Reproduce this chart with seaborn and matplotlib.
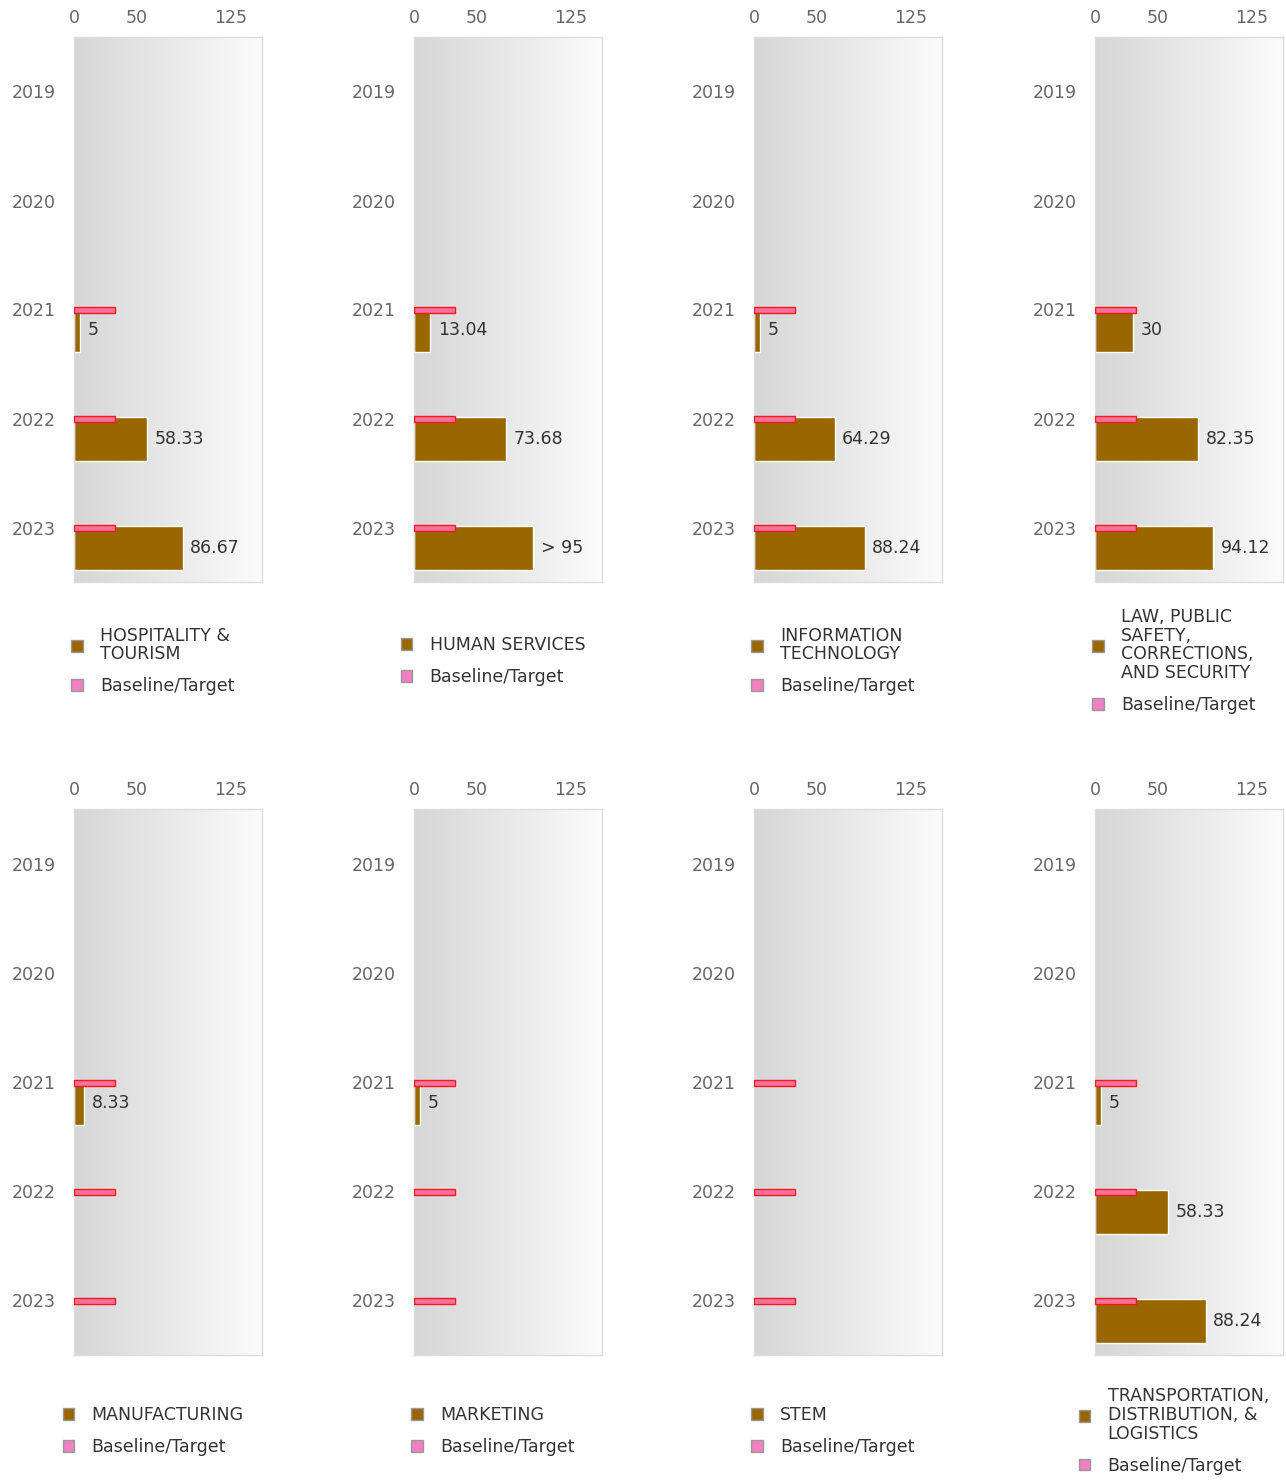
import numpy as np
import seaborn as sns
import matplotlib.pyplot as plt
from matplotlib.patches import Patch
from matplotlib.colors import LinearSegmentedColormap

years = ["2019", "2020", "2021", "2022", "2023"]
nan = np.nan

# one row of values per career cluster, NaN where nothing was reported
hospitality = [nan, nan, 5, 58.33, 86.67]
human_services = [nan, nan, 13.04, 73.68, 95]
info_tech = [nan, nan, 5, 64.29, 88.24]
law_safety = [nan, nan, 30, 82.35, 94.12]
manufacturing = [nan, nan, 8.33, nan, nan]
marketing = [nan, nan, 5, nan, nan]
stem = [nan, nan, nan, nan, nan]
transportation = [nan, nan, 5, 58.33, 88.24]

# baseline / target line shown from 2021 on
target = [nan, nan, 33, 33, 33]

panel_names = [
    "HOSPITALITY &\nTOURISM", "HUMAN SERVICES", "INFORMATION\nTECHNOLOGY",
    "LAW, PUBLIC\nSAFETY,\nCORRECTIONS,\nAND SECURITY",
    "MANUFACTURING", "MARKETING", "STEM",
    "TRANSPORTATION,\nDISTRIBUTION, &\nLOGISTICS",
]
panel_values = [hospitality, human_services, info_tech, law_safety,
                manufacturing, marketing, stem, transportation]
# suppressed values are shown as a range instead of the number
label_overrides = {(1, 4): "> 95"}

x_ticks = [0, 50, 125]
x_max = 150

BAR = "#996600"
TARGET_FILL = "#f7719f"
TARGET_EDGE = "#ff1a1a"
LEGEND_PINK = "#f080c0"
FS = 12.5

sns.set_theme(style="white")
plt.rcParams["font.family"] = ["DejaVu Sans"]

fig = plt.figure(figsize=(12.86, 14.82), dpi=100)
W, H = 1286, 1482

grad = LinearSegmentedColormap.from_list("bg", ["#d6d6d6", "#fbfbfb"])
lefts = [74, 414, 754, 1095]
rows = [(37, 582, 661), (809, 1355, 1431)]

for i, (name, vals) in enumerate(zip(panel_names, panel_values)):
    top, bottom, leg_y = rows[i // 4]
    left = lefts[i % 4]
    ax = fig.add_axes([left / W, 1 - bottom / H, 188 / W, (bottom - top) / H])

    ax.imshow(np.linspace(0, 1, 256).reshape(1, -1), cmap=grad, aspect="auto",
              extent=[0, 1, 0, 1], transform=ax.transAxes, zorder=0)

    pos = np.arange(len(years))
    vals = np.array(vals, dtype=float)
    ax.barh(pos + 0.19, vals, height=0.405, color=BAR, edgecolor="white",
            linewidth=1, zorder=2)
    ax.barh(pos + 0.008, target, height=0.055, color=TARGET_FILL,
            edgecolor=TARGET_EDGE, linewidth=1, zorder=3)

    for j, v in enumerate(vals):
        if np.isnan(v):
            continue
        txt = label_overrides.get((i, j), f"{v:g}")
        ax.annotate(txt, (v, j + 0.19), xytext=(5.5, 0), textcoords="offset points",
                    va="center", ha="left", fontsize=FS, color="#333333", zorder=4)

    ax.set_xlim(0, x_max)
    ax.set_ylim(len(years) - 0.5, -0.5)
    ax.set_yticks(pos)
    ax.set_yticklabels(years)
    ax.set_xticks(x_ticks)
    ax.xaxis.tick_top()
    ax.tick_params(axis="x", length=0, pad=7, labelsize=FS, labelcolor="#666666")
    ax.tick_params(axis="y", length=0, pad=13, labelsize=FS, labelcolor="#666666")
    for s in ax.spines.values():
        s.set_color("#dddddd")
        s.set_linewidth(1)

    handles = [Patch(facecolor=BAR, edgecolor="#999999", label=name),
               Patch(facecolor=LEGEND_PINK, edgecolor="#999999", label="Baseline/Target")]
    cx = (left + 94 - 15) / W
    leg = fig.legend(handles=handles, loc="center", bbox_to_anchor=(cx, 1 - leg_y / H),
                     frameon=False, fontsize=FS, handlelength=0.65, handleheight=0.65,
                     handletextpad=1.0, labelspacing=0.8, labelcolor="#333333")
    for t in leg.get_texts():
        t.set_linespacing(1.05)

fig.savefig("out.png", dpi=100)
